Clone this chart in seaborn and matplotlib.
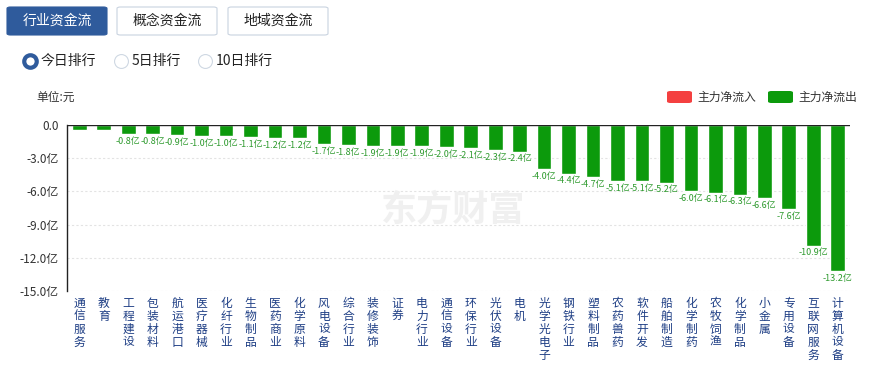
import matplotlib
matplotlib.use("Agg")
import matplotlib.pyplot as plt
import seaborn as sns
import pandas as pd
from matplotlib.patches import FancyBboxPatch
from matplotlib.lines import Line2D

# industry names and main-force net flow (亿元)
industries = ["通信服务", "教育", "工程建设", "包装材料", "航运港口", "医疗器械", "化纤行业",
              "生物制品", "医药商业", "化学原料", "风电设备", "综合行业", "装修装饰", "证券",
              "电力行业", "通信设备", "环保行业", "光伏设备", "电机", "光学光电子", "钢铁行业",
              "塑料制品", "农药兽药", "软件开发", "船舶制造", "化学制药", "农牧饲渔", "化学制品",
              "小金属", "专用设备", "互联网服务", "计算机设备"]
net_flow = [-0.45, -0.45, -0.8, -0.8, -0.9, -1.0, -1.0, -1.1, -1.2, -1.2, -1.7, -1.8, -1.9,
            -1.9, -1.9, -2.0, -2.1, -2.3, -2.4, -4.0, -4.4, -4.7, -5.1, -5.1, -5.2, -6.0,
            -6.1, -6.3, -6.6, -7.6, -10.9, -13.2]
y_ticks = [0, -3, -6, -9, -12, -15]
tabs = ["行业资金流", "概念资金流", "地域资金流"]
ranks = ["今日排行", "5日排行", "10日排行"]

sns.set_theme(style="white")
plt.rcParams["font.family"] = ["Noto Sans CJK SC", "DejaVu Sans"]

green = "#0c9a0c"
red = "#f44040"
blue = "#2f5b9c"

df = pd.DataFrame({"industry": industries, "flow": net_flow})

fig = plt.figure(figsize=(8.71, 3.68), dpi=100)
ax = fig.add_axes([67 / 871, 1 - 291 / 368, 783 / 871, 166 / 368])

sns.barplot(data=df, x="industry", y="flow", color=green, saturation=1, width=0.6, ax=ax)

ax.set_ylim(-15, 0)
ax.set_xlim(-0.5, len(industries) - 0.5)
ax.set_xlabel("")
ax.set_ylabel("")
ax.set_yticks(y_ticks)
ax.set_yticklabels(["0.0"] + [f"{v:.1f}亿" for v in y_ticks[1:]], fontsize=8.5, color="#333333")
for v in y_ticks[1:]:
    ax.axhline(v, color="#e3e3e3", lw=0.8, ls=(0, (2, 2)), zorder=0)
ax.axhline(0, color="#222222", lw=1.0, zorder=3)
ax.set_xticks(range(len(industries)))
ax.set_xticklabels(["\n".join(name) for name in industries], rotation=0, fontsize=8.5,
                   color="#1f3f85", va="top", linespacing=1.0)
ax.tick_params(axis="x", length=0, pad=4)
ax.tick_params(axis="y", length=0, pad=6)
for s in ["top", "right", "bottom"]:
    ax.spines[s].set_visible(False)
ax.spines["left"].set_color("#222222")
ax.spines["left"].set_linewidth(1.0)

# value labels (the first two are hidden in the reference)
labels = ["" if i < 2 else f"{v:.1f}亿" for i, v in enumerate(net_flow)]
ax.bar_label(ax.containers[0], labels=labels, fontsize=6.5, color="#2e9a2e", padding=2)

# watermark
fig.text(0.52, 0.43, "东方财富", fontsize=26, fontweight="bold", color="#f0f0f0",
         ha="center", va="center", zorder=0)

# tab buttons
tab_x = [7, 117, 228]
for i, (t, x0) in enumerate(zip(tabs, tab_x)):
    box = FancyBboxPatch((x0 / 871, 1 - 35 / 368), 100 / 871, 28 / 368,
                         boxstyle="round,pad=0,rounding_size=0.004", transform=fig.transFigure,
                         facecolor=blue if i == 0 else "white",
                         edgecolor=blue if i == 0 else "#c9d3e0", lw=0.8)
    fig.add_artist(box)
    fig.text((x0 + 50) / 871, 1 - 21 / 368, t, ha="center", va="center", fontsize=10,
             color="white" if i == 0 else "#222222")

# radio buttons
radio_x = [30, 121, 205]
for i, (r, x0) in enumerate(zip(ranks, radio_x)):
    dot = Line2D([x0 / 871], [1 - 61 / 368], transform=fig.transFigure, marker="o",
                 markersize=9 if i == 0 else 10, markerfacecolor="white",
                 markeredgecolor=blue if i == 0 else "#cfd8e3",
                 markeredgewidth=3 if i == 0 else 0.8, linestyle="none")
    fig.add_artist(dot)
    fig.text((x0 + 11) / 871, 1 - 61 / 368, r, ha="left", va="center", fontsize=10,
             color="#222222")

fig.text(36 / 871, 1 - 97 / 368, "单位:元", ha="left", va="center", fontsize=8.5, color="#333333")

# legend
for x0, col, lab in [(667, red, "主力净流入"), (768, green, "主力净流出")]:
    box = FancyBboxPatch((x0 / 871, 1 - 103 / 368), 25 / 871, 12 / 368,
                         boxstyle="round,pad=0,rounding_size=0.004", transform=fig.transFigure,
                         facecolor=col, edgecolor="none")
    fig.add_artist(box)
    fig.text((x0 + 30) / 871, 1 - 97 / 368, lab, ha="left", va="center", fontsize=8.5,
             color="#333333")

fig.savefig("out.png", dpi=100)
